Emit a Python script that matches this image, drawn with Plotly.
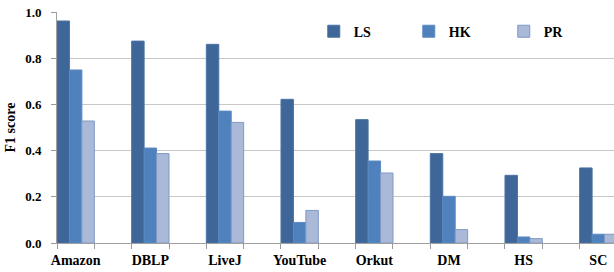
import plotly.graph_objects as go

categories = ["Amazon", "DBLP", "LiveJ", "YouTube", "Orkut", "DM", "HS", "SC"]
ls_values = [0.961, 0.874, 0.860, 0.622, 0.534, 0.387, 0.293, 0.325]
hk_values = [0.749, 0.411, 0.571, 0.089, 0.355, 0.202, 0.026, 0.038]
pr_values = [0.528, 0.387, 0.522, 0.141, 0.303, 0.058, 0.019, 0.038]
y_ticks = [0.0, 0.2, 0.4, 0.6, 0.8, 1.0]

series = [
    ("LS", ls_values, "#3e6699", "#4a73a6"),
    ("HK", hk_values, "#4f81bd", "#5b8ac2"),
    ("PR", pr_values, "#aab9d8", "#7f99c4"),
]

xpos = list(range(len(categories)))
font_family = "Liberation Serif, Times New Roman, serif"

fig = go.Figure()
for name, vals, color, line in series:
    fig.add_trace(go.Bar(
        x=xpos, y=vals, name=name,
        marker=dict(color=color, line=dict(color=line, width=1)),
    ))

fig.update_layout(
    width=614, height=272,
    margin=dict(l=57, r=0, t=12, b=29),
    paper_bgcolor="white", plot_bgcolor="white",
    barmode="group", bargap=0.5, bargroupgap=0,
    font=dict(family=font_family, size=13, color="black"),
    showlegend=True,
    legend=dict(
        orientation="h", x=0.461, y=0.915, xanchor="left", yanchor="middle",
        font=dict(family=font_family, size=14, color="black", weight="bold"),
        entrywidth=50, itemwidth=30, bgcolor="rgba(0,0,0,0)",
        tracegroupgap=0,
    ),
    xaxis=dict(
        range=[-0.25, 7.21],
        tickmode="array", tickvals=xpos, ticktext=[f"<b>{c}</b>" for c in categories],
        ticks="", showgrid=False, zeroline=False,
        showline=True, linecolor="#a0a0a0", linewidth=1,
        ticklabelstandoff=4,
        tickfont=dict(family=font_family, size=14, color="black"),
        minor=dict(tick0=-0.25, dtick=0.5, ticks="outside", ticklen=5,
                   tickcolor="#999999", tickwidth=1, showgrid=False),
    ),
    yaxis=dict(
        range=[0, 1.0],
        tickmode="array", tickvals=y_ticks,
        ticktext=[f"<b>{v:.1f}</b>" for v in y_ticks],
        ticks="outside", ticklen=5, tickcolor="#999999",
        ticklabelstandoff=7,
        showgrid=True, gridcolor="#c8c8c8", gridwidth=1,
        zeroline=False, showline=True, linecolor="#a0a0a0", linewidth=1,
        tickfont=dict(family=font_family, size=13, color="black"),
        title=dict(text="<b>F1 score</b>", font=dict(family=font_family, size=14, color="black"),
                   standoff=6),
    ),
)

fig.write_html(
    "out.html",
    config={"displayModeBar": False},
    post_script="document.body.style.margin='0';document.body.style.padding='0';",
)
